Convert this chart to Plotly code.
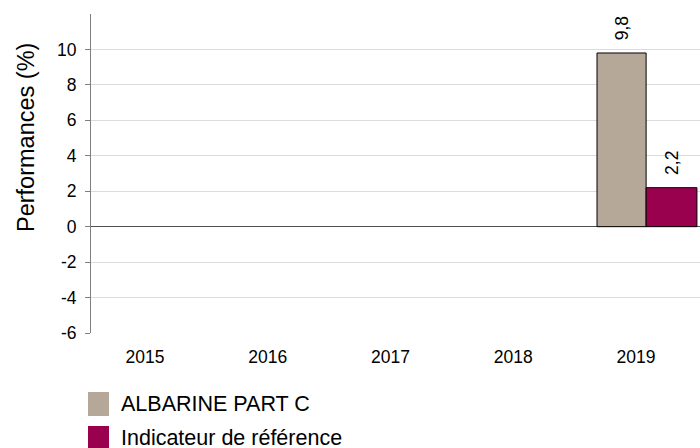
import plotly.graph_objects as go

years = ["2015", "2016", "2017", "2018", "2019"]
fund_name = "ALBARINE PART C"
bench_name = "Indicateur de référence"
fund_values = [None, None, None, None, 9.8]
bench_values = [None, None, None, None, 2.2]
y_ticks = [-6, -4, -2, 0, 2, 4, 6, 8, 10]
y_title = "Performances (%)"

fund_color = "#B6A899"
bench_color = "#99004D"
font_family = "Liberation Sans, Arial, sans-serif"

def fmt(v):
    return "" if v is None else "\u00a0\u00a0" + f"{v:.1f}".replace(".", ",")

fig = go.Figure()
# bar placement (in category units) as in the reference
bar_layout = [(-0.318, 0.40), (0.082, 0.414)]
for (nm, vals, col), (off, wid) in zip(
        [(fund_name, fund_values, fund_color), (bench_name, bench_values, bench_color)], bar_layout):
    fig.add_trace(go.Bar(
        x=years, y=vals, name=nm, showlegend=False,
        offset=off, width=wid,
        marker=dict(color=col, line=dict(color="#000000", width=1)),
        text=[fmt(v) for v in vals], textposition="outside", textangle=-90,
        textfont=dict(size=17.5, color="#000000", family=font_family), cliponaxis=False,
    ))

# legend drawn below the plot (squares + real text)
legend_items = [(fund_name, fund_color), (bench_name, bench_color)]
for i, (nm, col) in enumerate(legend_items):
    top = -59 - 34 * i
    fig.add_shape(type="rect", xref="paper", yref="paper",
                  xsizemode="pixel", ysizemode="pixel", xanchor=0, yanchor=0,
                  x0=-3, x1=18, y0=top - 24, y1=top,
                  fillcolor=col, line=dict(width=0))
    fig.add_annotation(text=nm, xref="paper", yref="paper", x=0, y=0,
                       xanchor="left", yanchor="middle", xshift=28, yshift=-72 - 34 * i + 1,
                       showarrow=False, font=dict(size=21.5, family=font_family, color="#000000"))

# y-axis title
fig.add_annotation(text=y_title, xref="paper", yref="paper", x=0, y=0,
                   xanchor="center", yanchor="middle", xshift=-65, yshift=195,
                   textangle=-90, showarrow=False,
                   font=dict(size=23.5, family=font_family, color="#000000"))

fig.update_layout(
    width=700, height=448,
    margin=dict(l=91, r=0, t=14, b=115, autoexpand=False),
    paper_bgcolor="white", plot_bgcolor="white",
    font=dict(family=font_family, size=17.5, color="#000000"),
    barmode="group", bargap=0.2, bargroupgap=0,
    showlegend=False,
    xaxis=dict(
        type="category", range=[-0.44, 4.521], showline=False, showgrid=False, ticks="",
        tickfont=dict(size=17.5), ticklabelstandoff=11, automargin=False,
    ),
    yaxis=dict(
        range=[-6, 12], tickvals=y_ticks,
        ticktext=[str(v) for v in y_ticks],
        showgrid=True, gridcolor="#DCDCDC", gridwidth=1,
        zeroline=True, zerolinecolor="#505050", zerolinewidth=1,
        showline=True, linecolor="#7F7F7F", linewidth=1,
        ticks="outside", ticklen=5, tickcolor="#7F7F7F",
        tickfont=dict(size=17.5), ticklabelstandoff=5, automargin=False,
    ),
)
fig.write_html(
    "out.html",
    config={"displayModeBar": False},
    post_script="document.body.style.margin='0';document.body.style.overflow='hidden';",
)
